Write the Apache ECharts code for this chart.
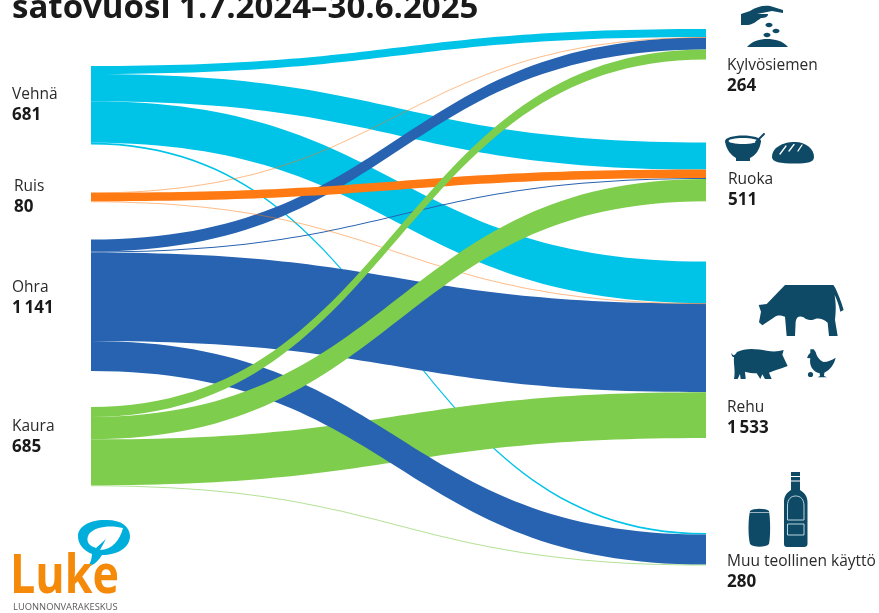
<!DOCTYPE html>
<html><head><meta charset="utf-8">
<style>html,body{margin:0;padding:0;background:#fff}#c{width:879px;height:613px}</style>
<script src="https://cdn.jsdelivr.net/npm/echarts@6/dist/echarts.min.js"></script>
</head><body><div id="c"></div>
<script>
// ---- data ----
const sources = ['Vehnä', 'Ruis', 'Ohra', 'Kaura'];
const sourceTotals = ['681', '80', '1\u2009141', '685'];
const targets = ['Kylvösiemen', 'Ruoka', 'Rehu', 'Muu teollinen käyttö'];
const targetTotals = ['264', '511', '1\u2009533', '280'];
const vehnaFlows = [70, 235, 362, 14];
const ruisFlows = [3, 74, 3, 0];
const ohraFlows = [105, 7, 769, 260];
const kauraFlows = [86, 195, 398, 6];
const chartTitle = 'satovuosi 1.7.2024–30.6.2025';

// ---- layout / style ----
const flows = {'Vehnä': vehnaFlows, 'Ruis': ruisFlows, 'Ohra': ohraFlows, 'Kaura': kauraFlows};
const colors = {'Vehnä': '#00c3e8', 'Ruis': '#ff7a12', 'Ohra': '#2763b0', 'Kaura': '#7fcd4d'};
const H = 613;
const sourceTop = [66, 192.5, 239.5, 407];
const targetTop = [29, 142.5, 261.5, 533];
const sourceLabel = [[-79, 19], [-77, -16], [-79, 38], [-79, 10]];
const targetLabel = [[21, 27], [22, 27], [21, 136], [21, 19]];
const paint = [[0,3],[0,1],[0,0],[0,2],[2,2],[3,2],[2,3],[2,0],[2,1],[1,0],[1,2],[1,1],[3,1],[3,0],[3,3]];

function nodeOf(name, top, total, pos) {
  return {
    name, localY: top / H,
    label: {
      show: true, position: pos, align: 'left', verticalAlign: 'top',
      formatter: '{a|' + name + '}\n{b|' + total + '}',
      rich: {
        a: {fontFamily: 'Open Sans', fontSize: 15.5, color: '#2a2a2a', lineHeight: 20},
        b: {fontFamily: 'Open Sans', fontSize: 17, fontWeight: 700, color: '#1a1a1a', lineHeight: 21}
      }
    }
  };
}
const nodes = sources.map((n, i) => nodeOf(n, sourceTop[i], sourceTotals[i], sourceLabel[i]))
  .concat(targets.map((n, i) => nodeOf(n, targetTop[i], targetTotals[i], targetLabel[i])));
const links = paint.map(([s, t]) => ({
  source: sources[s], target: targets[t], value: flows[sources[s]][t],
  lineStyle: {color: colors[sources[s]], opacity: (s === 1 && t !== 1) ? 0.5 : (s === 3 && t === 3 ? 0.6 : 1)}
}));

const ink = '#0e4a66';
echarts.graphic.registerShape('ellipse', echarts.graphic.Ellipse);
let shapeCount = 0;
function icon(d, fill, x, y, sc) {
  const name = 'iconShape' + (shapeCount++);
  echarts.graphic.registerShape(name, echarts.graphic.extendPath(d));
  return {type: name, silent: true, x: x || 0, y: y || 0, scaleX: sc || 1, scaleY: sc || 1,
    style: {fill: fill || ink, stroke: null}};
}
function outline(d, c, w) {
  const el = icon(d, 'none');
  el.style = {fill: 'none', stroke: c, lineWidth: w};
  return el;
}
function circ(cx, cy, r, fill) { return {type: 'circle', silent: true, shape: {cx, cy, r}, style: {fill: fill || ink}}; }
function ell(cx, cy, rx, ry, fill) { return {type: 'ellipse', silent: true, shape: {cx, cy, rx, ry}, style: {fill: fill || ink}}; }
function ln(x1, y1, x2, y2, c, w) { return {type: 'line', silent: true, shape: {x1, y1, x2, y2}, style: {stroke: c, lineWidth: w, lineCap: 'round'}}; }

const graphics = [
  // hand + seeds
  icon('M741 14 L750 11 C756 7 763 5 770 6 L783 10 L783 13 L772 11 C767 12 762 13 757 14 L768 14 C768 17 765 18 761 18 C757 21 752 25 748 25 L741 25 Z'),
  ell(769, 25, 3.5, 2.2), ell(776, 31, 3.5, 2.2), ell(767, 35, 3.5, 2.2),
  icon('M747 47 C752 41 760 39 767 39 C775 39 783 41 788 47 Z'),
  // bowl + bread
  ell(743, 141, 18, 5.5),
  icon('M725 141 C726 150 732 156 736 158 L736 161 L750 161 L750 158 C755 156 760 150 761 141 Z'),
  ell(743, 141, 14.5, 3, '#fff'),
  ln(756, 142, 764, 134, ink, 2),
  icon('M772 157 C772 148 782 142 795 142 C806 142 814 149 814 157 C814 162 808 163.5 795 163.5 C780 163.5 772 162 772 157 Z'),
  ln(780, 154, 786, 146, '#fff', 1.3), ln(789, 151, 794, 144.5, '#fff', 1.3), ln(798, 151, 802, 145, '#fff', 1.3),
  // cow
  icon('M180 15 L325 15 L331 24 C340 45 348 62 356 90 L346 95 C342 75 336 60 329 45 C332 70 334 80 330 120 L338 168 L312 168 L308 128 C296 118 285 114 272 116 C262 122 245 122 236 112 C222 106 214 112 212 125 L210 168 L185 168 L180 110 C165 105 155 105 148 112 L112 136 L102 127 L108 95 L101 75 L125 72 Z', ink, 725, 280, 1/3),
  icon('M218 118 C226 118 232 135 231 155 L222 158 C215 145 212 130 218 118 Z', '#fff', 725, 280, 1/3),
  icon('M293 122 C302 125 298 145 292 160 L279 155 C282 140 285 130 293 122 Z', '#fff', 725, 280, 1/3),
  // pig
  icon('M20 218 C24 230 30 226 36 216 C60 203 95 206 125 212 C145 216 162 214 176 210 L172 224 L188 258 L172 264 C160 268 148 272 132 278 L140 297 L120 297 L112 283 L106 297 L95 280 C82 280 72 278 60 275 L62 297 L47 297 L45 282 L38 297 L27 297 C32 275 25 250 27 232 C22 230 18 226 20 218 Z', ink, 725, 280, 1/3),
  // chicken
  icon('M250 225 L256 218 L256 208 L266 208 L272 216 C275 228 282 240 296 246 C308 246 320 240 332 233 C328 252 315 270 298 278 L297 288 L306 292 L278 292 L285 288 L284 280 C262 275 252 255 256 235 L246 234 Z', ink, 725, 280, 1/3),
  circ(810.5, 374.5, 2.6),
  // can + bottle
  icon('M750 511 C753 508 766 508 769 511 C770.5 520 770.5 536 769 544 C766 547.5 753 547.5 750 544 C748 536 748 520 750 511 Z'),
  ln(750, 512.5, 768.5, 512.5, '#fff', 0.6),
  icon('M791 472 L800 472 L800 490 C805 493 807.5 497 807.5 502 L807.5 544 C807.5 546 806 547 804 547 L787 547 C785 547 784 546 784 544 L784 502 C784 497 786 493 791 490 Z'),
  ln(790, 476.5, 801, 476.5, '#fff', 1), ln(790, 481, 801, 481, '#fff', 1),
  outline('M787.5 520 L787.5 506 C787.5 499 791 496 795.7 496 C800.5 496 804 499 804 506 L804 520 Z', '#cfe2ea', 0.9),
  {type: 'rect', silent: true, shape: {x: 787.5, y: 524, width: 16.5, height: 11}, style: {fill: 'none', stroke: '#cfe2ea', lineWidth: 0.9}},
  // logo
  icon('M104 520 C120 519 130 526 130 536 C130 548 117 555 102 555 C99 560 94 565 88 567 C90 563 92 559 92 554 C83 550 78 544 78 536 C78 527 89 520 104 520 Z', '#00aedb'),
  icon('M123 528 C112 525 95 526 89 534 C85 541 89 546 96 548 L106 539 L100 550 C112 550 120 540 123 528 Z', '#fff'),
  {type: 'text', silent: true, x: 10, y: 551, scaleX: 0.83, scaleY: 1, style: {text: 'Luke', fontFamily: 'Open Sans', fontWeight: 700, fontSize: 54, fill: '#f58a0a', textBaseline: 'top'}},
  {type: 'text', silent: true, x: 13, y: 603, style: {text: 'LUONNONVARAKESKUS', fontFamily: 'Open Sans', fontSize: 9.4, fill: '#5a5a5a', textBaseline: 'top'}}
];

const chart = echarts.init(document.getElementById('c'));
chart.setOption({
  animation: false,
  title: {text: chartTitle, left: 7, top: -13, textStyle: {fontFamily: 'Open Sans', fontSize: 33, fontWeight: 700, color: '#1a1a1a'}},
  graphic: graphics,
  series: [{
    type: 'sankey', left: 91, right: 173, top: 0, bottom: 0,
    nodeWidth: 0, nodeGap: 105, layoutIterations: 0, nodeAlign: 'justify',
    draggable: false, emphasis: {disabled: true},
    itemStyle: {color: 'transparent', borderWidth: 0},
    lineStyle: {curveness: 0.5},
    data: nodes, links: links
  }]
});
</script></body></html>
